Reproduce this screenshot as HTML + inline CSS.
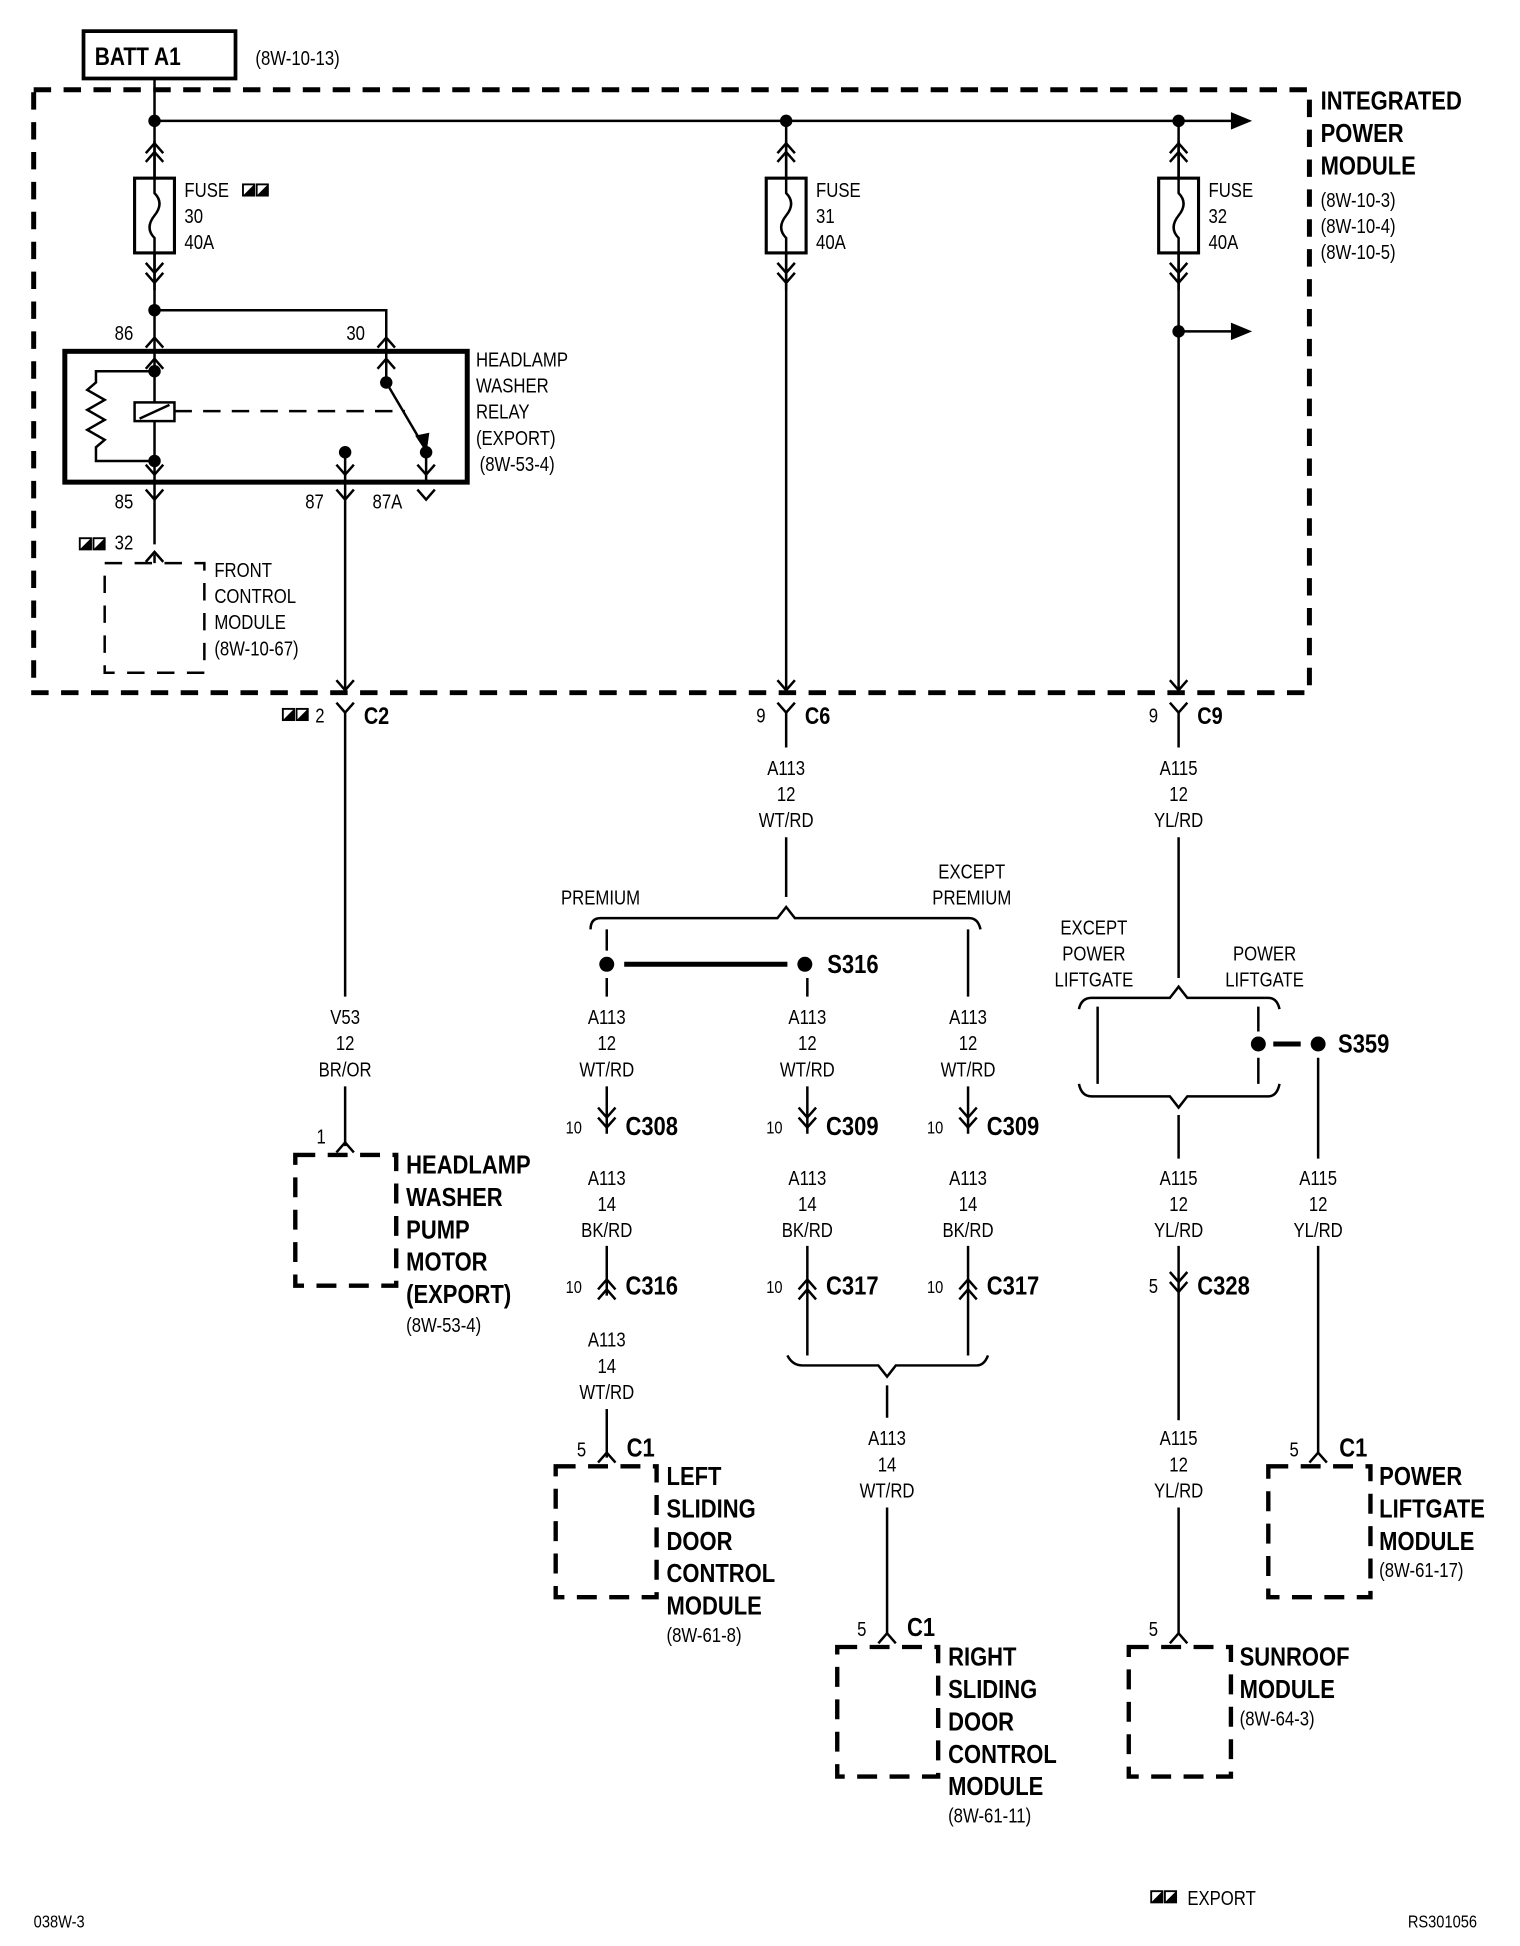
<!DOCTYPE html>
<html><head><meta charset="utf-8"><style>
html,body{margin:0;padding:0;background:#fff;}
svg{display:block;}
text{font-family:"Liberation Sans Narrow","Liberation Sans",sans-serif;fill:#000;}
.s{font-size:16px;}
.b{font-size:21px;font-weight:bold;}
.c{text-anchor:middle;}
</style></head><body>
<svg id="sv" width="1520" height="1946" viewBox="0 0 1220 1562" xmlns="http://www.w3.org/2000/svg">
<defs>
<path id="cu" d="M-7,7 L0,-1 L7,7" fill="none" stroke="#000" stroke-width="2"/>
<path id="cd" d="M-7,-7 L0,1 L7,-7" fill="none" stroke="#000" stroke-width="2"/>
<g id="sq"><rect x="0" y="0" width="9" height="9" fill="#fff" stroke="#000" stroke-width="1.5"/><path d="M0,9 L9,0 L9,9 Z" fill="#000"/></g>
<g id="fuse"><rect x="-16" y="0" width="32" height="60" fill="#fff" stroke="#000" stroke-width="2.5"/><path d="M0,-30 L0,12 Q8,20 0,30 Q-8,40 0,48 L0,90" fill="none" stroke="#000" stroke-width="2"/></g>
</defs>
<rect width="1220" height="1562" fill="#fff"/>
<g fill="none" stroke="#000">
<rect x="67" y="25" width="122" height="38" stroke-width="3"/>
<rect x="27" y="72" width="1024" height="484" stroke-width="4" stroke-dasharray="14,10"/>
<g stroke-width="2">
<path d="M124,63 V97 H990"/>
<path d="M124,97 V143 M631,97 V143 M946,97 V143"/>
<path d="M124,203 V249 H310 V281 M124,249 V281"/>
<path d="M631,203 V556 M946,203 V556 M946,266 H990"/>
</g>
<use href="#fuse" x="124" y="143"/><use href="#fuse" x="631" y="143"/><use href="#fuse" x="946" y="143"/>
<g>
<use href="#cu" x="124" y="116"/><use href="#cu" x="124" y="123"/>
<use href="#cu" x="631" y="116"/><use href="#cu" x="631" y="123"/>
<use href="#cu" x="946" y="116"/><use href="#cu" x="946" y="123"/>
<use href="#cd" x="124" y="218"/><use href="#cd" x="124" y="226"/>
<use href="#cd" x="631" y="218"/><use href="#cd" x="631" y="226"/>
<use href="#cd" x="946" y="218"/><use href="#cd" x="946" y="226"/>
</g>
<rect x="52" y="282" width="323" height="105" stroke-width="4"/>
<g stroke-width="2">
<path d="M124,282 V387 M124,298 H77 V307 L70,313 L84,321 L70,329 L84,337 L70,345 L84,353 L77,359 V370 H124"/>
<rect x="108" y="323" width="32" height="15" fill="#fff"/>
<path d="M112,336 L136,325"/>
<path d="M140,330 H325" stroke-dasharray="14,9"/>
<path d="M310,282 V307 L340,358"/>
<path d="M342,363 V387 M277,363 V556"/>
<path d="M124,387 V437 M124,445 V452"/>
</g>
<path d="M334,350 L342,362 L344,348 Z" fill="#000" stroke-width="1"/>
<use href="#cu" x="124" y="272"/><use href="#cu" x="310" y="272"/>
<use href="#cu" x="124" y="289"/><use href="#cu" x="310" y="289"/>
<use href="#cd" x="124" y="380"/><use href="#cd" x="277" y="380"/><use href="#cd" x="342" y="380"/>
<use href="#cd" x="124" y="400"/><use href="#cd" x="277" y="400"/><use href="#cd" x="342" y="400"/>
<use href="#cu" x="124" y="444"/>
<rect x="84" y="452" width="80" height="88" stroke-width="2" stroke-dasharray="14,10"/>
<use href="#cd" x="277" y="553"/><use href="#cd" x="631" y="553"/><use href="#cd" x="946" y="553"/>
<use href="#cd" x="277" y="571"/><use href="#cd" x="631" y="571"/><use href="#cd" x="946" y="571"/>
<g stroke-width="2">
<path d="M277,571 V800 M277,872 V920"/>
<path d="M631,571 V600 M631,672 V720"/>
<path d="M946,571 V600 M946,672 V785"/>
</g>
<use href="#cu" x="277" y="918"/>
<rect x="237" y="927" width="81" height="105" stroke-width="3.5" stroke-dasharray="16,10"/>
<path d="M474,746 Q474,737 482,737 H624 L631,728 L638,737 H778 Q785,737 787,746" stroke-width="2"/>
<g stroke-width="2">
<path d="M487,746 V763 M487,785 V800 M648,785 V800 M777,746 V800"/>
<path d="M501,774 H632" stroke-width="4"/>
<path d="M487,872 V910 M648,872 V910 M777,872 V910"/>
<path d="M487,1000 V1040 M648,1000 V1088 M777,1000 V1088"/>
<path d="M487,1131 V1170"/>
<path d="M632,1088 Q636,1096 644,1096 H705 L712,1105 L719,1096 H784 Q790,1096 793,1088"/>
<path d="M712,1112 V1138 M712,1210 V1312"/>
</g>
<g>
<use href="#cd" x="487" y="896"/><use href="#cd" x="487" y="904"/>
<use href="#cd" x="648" y="896"/><use href="#cd" x="648" y="904"/>
<use href="#cd" x="777" y="896"/><use href="#cd" x="777" y="904"/>
<use href="#cu" x="487" y="1028"/><use href="#cu" x="487" y="1036"/>
<use href="#cu" x="648" y="1028"/><use href="#cu" x="648" y="1036"/>
<use href="#cu" x="777" y="1028"/><use href="#cu" x="777" y="1036"/>
<use href="#cu" x="487" y="1167"/><use href="#cu" x="712" y="1312"/>
</g>
<rect x="446" y="1177" width="81" height="105" stroke-width="3.5" stroke-dasharray="16,10"/>
<rect x="672" y="1322" width="81" height="104" stroke-width="3.5" stroke-dasharray="16,10"/>
<path d="M866,810 Q868,801 876,801 H939 L946,792 L953,801 H1018 Q1025,801 1027,810" stroke-width="2"/>
<path d="M866,870 Q868,880 876,880 H939 L946,889 L953,880 H1018 Q1025,880 1027,870" stroke-width="2"/>
<g stroke-width="2">
<path d="M881,808 V870 M1010,808 V828 M1010,849 V870"/>
<path d="M1022,838 H1044" stroke-width="4"/>
<path d="M946,895 V930 M946,1000 V1040 M946,1040 V1140 M946,1210 V1312"/>
<path d="M1058,849 V930 M1058,1000 V1167"/>
</g>
<use href="#cd" x="946" y="1028"/><use href="#cd" x="946" y="1036"/>
<use href="#cu" x="946" y="1312"/><use href="#cu" x="1058" y="1167"/>
<rect x="906" y="1322" width="82" height="104" stroke-width="3.5" stroke-dasharray="16,10"/>
<rect x="1018" y="1177" width="82" height="105" stroke-width="3.5" stroke-dasharray="16,10"/>
</g>
<g fill="#000">
<circle cx="124" cy="97" r="5"/><circle cx="631" cy="97" r="5"/><circle cx="946" cy="97" r="5"/>
<circle cx="124" cy="249" r="5"/><circle cx="946" cy="266" r="5"/>
<circle cx="124" cy="298" r="5"/><circle cx="124" cy="370" r="5"/>
<circle cx="310" cy="307" r="5"/><circle cx="342" cy="363" r="5"/><circle cx="277" cy="363" r="5"/>
<circle cx="487" cy="774" r="6"/><circle cx="646" cy="774" r="6"/>
<circle cx="1010" cy="838" r="6"/><circle cx="1058" cy="838" r="6"/>
<path d="M988,90 L1005,97 L988,104 Z"/><path d="M988,259 L1005,266 L988,273 Z"/>
</g>
<use href="#sq" x="195" y="148"/><use href="#sq" x="206" y="148"/>
<use href="#sq" x="64" y="432"/><use href="#sq" x="75" y="432"/>
<use href="#sq" x="227" y="569"/><use href="#sq" x="238" y="569"/>
<use href="#sq" x="924" y="1518"/><use href="#sq" x="935" y="1518"/>
<text x="76" y="52" class="b" style="font-size:20px">BATT A1</text>
<text x="205" y="52" class="s">(8W-10-13)</text>
<text x="1060" y="88" class="b">INTEGRATED</text>
<text x="1060" y="114" class="b">POWER</text>
<text x="1060" y="140" class="b">MODULE</text>
<text x="1060" y="166" class="s">(8W-10-3)</text>
<text x="1060" y="187" class="s">(8W-10-4)</text>
<text x="1060" y="208" class="s">(8W-10-5)</text>
<text x="148" y="158" class="s">FUSE</text><text x="148" y="179" class="s">30</text><text x="148" y="200" class="s">40A</text>
<text x="655" y="158" class="s">FUSE</text><text x="655" y="179" class="s">31</text><text x="655" y="200" class="s">40A</text>
<text x="970" y="158" class="s">FUSE</text><text x="970" y="179" class="s">32</text><text x="970" y="200" class="s">40A</text>
<text x="92" y="273" class="s">86</text><text x="278" y="273" class="s">30</text>
<text x="382" y="294" class="s">HEADLAMP</text><text x="382" y="315" class="s">WASHER</text>
<text x="382" y="336" class="s">RELAY</text><text x="382" y="357" class="s">(EXPORT)</text>
<text x="385" y="378" class="s">(8W-53-4)</text>
<text x="92" y="408" class="s">85</text><text x="245" y="408" class="s">87</text><text x="299" y="408" class="s">87A</text>
<text x="92" y="441" class="s">32</text>
<text x="172" y="463" class="s">FRONT</text><text x="172" y="484" class="s">CONTROL</text>
<text x="172" y="505" class="s">MODULE</text><text x="172" y="526" class="s">(8W-10-67)</text>
<text x="253" y="580" class="s">2</text><text x="292" y="581" class="b" style="font-size:19px">C2</text>
<text x="607" y="580" class="s">9</text><text x="646" y="581" class="b" style="font-size:19px">C6</text>
<text x="922" y="580" class="s">9</text><text x="961" y="581" class="b" style="font-size:19px">C9</text>
<text x="631" y="622" class="s c">A113</text><text x="631" y="643" class="s c">12</text><text x="631" y="664" class="s c">WT/RD</text>
<text x="946" y="622" class="s c">A115</text><text x="946" y="643" class="s c">12</text><text x="946" y="664" class="s c">YL/RD</text>
<text x="277" y="822" class="s c">V53</text><text x="277" y="843" class="s c">12</text><text x="277" y="864" class="s c">BR/OR</text>
<text x="482" y="726" class="s c">PREMIUM</text>
<text x="780" y="705" class="s c">EXCEPT</text><text x="780" y="726" class="s c">PREMIUM</text>
<text x="487" y="822" class="s c">A113</text><text x="487" y="843" class="s c">12</text><text x="487" y="864" class="s c">WT/RD</text>
<text x="648" y="822" class="s c">A113</text><text x="648" y="843" class="s c">12</text><text x="648" y="864" class="s c">WT/RD</text>
<text x="777" y="822" class="s c">A113</text><text x="777" y="843" class="s c">12</text><text x="777" y="864" class="s c">WT/RD</text>
<text x="487" y="951" class="s c">A113</text><text x="487" y="972" class="s c">14</text><text x="487" y="993" class="s c">BK/RD</text>
<text x="648" y="951" class="s c">A113</text><text x="648" y="972" class="s c">14</text><text x="648" y="993" class="s c">BK/RD</text>
<text x="777" y="951" class="s c">A113</text><text x="777" y="972" class="s c">14</text><text x="777" y="993" class="s c">BK/RD</text>
<text x="487" y="1081" class="s c">A113</text><text x="487" y="1102" class="s c">14</text><text x="487" y="1123" class="s c">WT/RD</text>
<text x="712" y="1160" class="s c">A113</text><text x="712" y="1181" class="s c">14</text><text x="712" y="1202" class="s c">WT/RD</text>
<text x="878" y="750" class="s c">EXCEPT</text><text x="878" y="771" class="s c">POWER</text><text x="878" y="792" class="s c">LIFTGATE</text>
<text x="1015" y="771" class="s c">POWER</text><text x="1015" y="792" class="s c">LIFTGATE</text>
<text x="946" y="951" class="s c">A115</text><text x="946" y="972" class="s c">12</text><text x="946" y="993" class="s c">YL/RD</text>
<text x="1058" y="951" class="s c">A115</text><text x="1058" y="972" class="s c">12</text><text x="1058" y="993" class="s c">YL/RD</text>
<text x="946" y="1160" class="s c">A115</text><text x="946" y="1181" class="s c">12</text><text x="946" y="1202" class="s c">YL/RD</text>
<text x="664" y="781" class="b">S316</text>
<text x="1074" y="845" class="b">S359</text>
<text x="454" y="910" class="s" style="font-size:14px">10</text><text x="502" y="911" class="b">C308</text>
<text x="615" y="910" class="s" style="font-size:14px">10</text><text x="663" y="911" class="b">C309</text>
<text x="744" y="910" class="s" style="font-size:14px">10</text><text x="792" y="911" class="b">C309</text>
<text x="454" y="1038" class="s" style="font-size:14px">10</text><text x="502" y="1039" class="b">C316</text>
<text x="615" y="1038" class="s" style="font-size:14px">10</text><text x="663" y="1039" class="b">C317</text>
<text x="744" y="1038" class="s" style="font-size:14px">10</text><text x="792" y="1039" class="b">C317</text>
<text x="922" y="1038" class="s">5</text><text x="961" y="1039" class="b">C328</text>
<text x="254" y="918" class="s">1</text>
<text x="326" y="942" class="b">HEADLAMP</text><text x="326" y="968" class="b">WASHER</text>
<text x="326" y="994" class="b">PUMP</text><text x="326" y="1020" class="b">MOTOR</text>
<text x="326" y="1046" class="b">(EXPORT)</text><text x="326" y="1069" class="s">(8W-53-4)</text>
<text x="463" y="1169" class="s">5</text><text x="503" y="1169" class="b">C1</text>
<text x="535" y="1192" class="b">LEFT</text><text x="535" y="1218" class="b">SLIDING</text>
<text x="535" y="1244" class="b">DOOR</text><text x="535" y="1270" class="b">CONTROL</text>
<text x="535" y="1296" class="b">MODULE</text><text x="535" y="1318" class="s">(8W-61-8)</text>
<text x="688" y="1313" class="s">5</text><text x="728" y="1313" class="b">C1</text>
<text x="761" y="1337" class="b">RIGHT</text><text x="761" y="1363" class="b">SLIDING</text>
<text x="761" y="1389" class="b">DOOR</text><text x="761" y="1415" class="b">CONTROL</text>
<text x="761" y="1441" class="b">MODULE</text><text x="761" y="1463" class="s">(8W-61-11)</text>
<text x="922" y="1313" class="s">5</text>
<text x="995" y="1337" class="b">SUNROOF</text><text x="995" y="1363" class="b">MODULE</text>
<text x="995" y="1385" class="s">(8W-64-3)</text>
<text x="1035" y="1169" class="s">5</text><text x="1075" y="1169" class="b">C1</text>
<text x="1107" y="1192" class="b">POWER</text><text x="1107" y="1218" class="b">LIFTGATE</text>
<text x="1107" y="1244" class="b">MODULE</text><text x="1107" y="1266" class="s">(8W-61-17)</text>
<text x="953" y="1529" class="s">EXPORT</text>
<text x="27" y="1547" class="s" style="font-size:14px">038W-3</text>
<text x="1130" y="1547" class="s" style="font-size:14px">RS301056</text>
</svg>
<script>
(function(){var t=document.querySelectorAll('#sv text');for(var i=0;i<t.length;i++){var x=parseFloat(t[i].getAttribute('x'));t[i].setAttribute('transform','translate('+x+',0) scale(0.84,1) translate('+(-x)+',0)');}})();
</script>
</body></html>
